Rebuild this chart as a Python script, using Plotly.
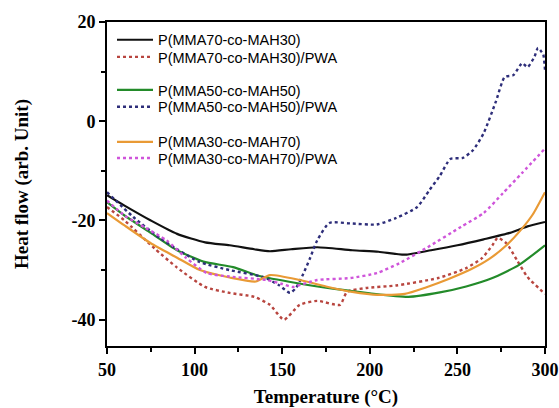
import plotly.graph_objects as go

# ---- data ----
t_p70 = [50, 60, 75, 90, 106, 120, 134, 143, 155, 170, 190, 205, 220, 235, 250, 265, 280, 290, 300]
h_p70 = [-14.9, -17, -20, -22.7, -24.4, -25, -25.8, -26.2, -25.8, -25.4, -26, -26.3, -26.9, -26, -25, -23.8, -22.5, -21.2, -20.3]

t_p70pwa = [50, 60, 77, 90, 106, 120, 134, 143, 151, 160, 170, 183, 187, 198, 215, 239, 255, 264, 270, 273, 278, 284, 290, 300]
h_p70pwa = [-17.3, -20, -25.6, -29.5, -33.4, -34.6, -35.4, -37, -40, -37, -36.2, -37, -34.4, -33.6, -33.1, -31.6, -29.6, -27.6, -25, -23.5, -24.6, -28, -31.4, -34.8]

t_p50 = [50, 60, 75, 90, 105, 122, 137, 158, 180, 200, 222, 240, 255, 270, 285, 300]
h_p50 = [-16.3, -19, -22.5, -26, -28.3, -29.4, -31.2, -32.6, -33.8, -34.7, -35.4, -34.5, -33.3, -31.6, -29, -25]

t_p50pwa = [50, 65, 80, 90, 103, 120, 139, 148, 154.5, 158, 162, 166, 170, 177, 189, 204, 215, 227, 234, 240, 246, 253, 259, 265, 272, 277, 282, 287, 290, 294, 296, 298, 299, 300]
h_p50pwa = [-14.3, -19.3, -23.5, -25.8, -28.4, -30, -31.4, -33, -34.6, -33.5, -30.8, -27.5, -24, -20.5, -20.6, -20.8, -19.5, -17.3, -13.9, -11, -7.6, -7.4, -5.8, -2.4, 4, 8.9, 9.3, 11.7, 10.9, 13, 14.8, 14, 13.5, 10.3]

t_p30 = [50, 60, 75, 90, 103, 120, 135, 143, 160, 175, 190, 205, 220, 232, 245, 258, 268, 278, 286, 293, 300]
h_p30 = [-18.5, -21, -24.6, -27.5, -30, -31.5, -32.3, -31, -32, -33.3, -34.4, -35, -34.8, -33.5, -31.8, -29.8, -27.8, -25, -22, -18.8, -14.3]

t_p30pwa = [50, 60, 72, 84, 95, 107, 120, 141, 150, 156, 162, 170, 189, 204, 217, 233, 252, 265, 276, 287, 300]
h_p30pwa = [-16, -19, -21.5, -24, -27.5, -30.6, -31.3, -32, -32.8, -33.4, -32.8, -32, -31.6, -30.6, -28.6, -25.4, -21.3, -18.5, -14.5, -10.4, -5.5]

x_ticks = [50, 100, 150, 200, 250, 300]
x_minor = [75, 125, 175, 225, 275]
y_ticks = [20, 0, -20, -40]
y_minor = [10, -10, -30]

series = [
    ("P(MMA70-co-MAH30)", t_p70, h_p70, "#111111", "solid"),
    ("P(MMA70-co-MAH30)/PWA", t_p70pwa, h_p70pwa, "#B8453F", "dot"),
    ("P(MMA50-co-MAH50)", t_p50, h_p50, "#238B2A", "solid"),
    ("P(MMA50-co-MAH50)/PWA", t_p50pwa, h_p50pwa, "#2E2E7A", "dot"),
    ("P(MMA30-co-MAH70)", t_p30, h_p30, "#E99A35", "solid"),
    ("P(MMA30-co-MAH70)/PWA", t_p30pwa, h_p30pwa, "#CF55DA", "dot"),
]

# legend row positions (fraction of plot height, from the top)
legend_rows = [0.055, 0.108, 0.210, 0.262, 0.370, 0.420]

fig = go.Figure()
layout_legends = {}
for i, (name, xs, ys, col, dash) in enumerate(series):
    lg = "legend" if i == 0 else f"legend{i + 1}"
    fig.add_trace(go.Scatter(
        x=xs, y=ys, mode="lines", name=name, legend=lg,
        line=dict(color=col, width=2.2 if dash == "solid" else 2.4, dash=dash, shape="spline", smoothing=0.6),
    ))
    layout_legends[lg] = dict(
        x=5 / 438, y=1 - legend_rows[i], xanchor="left", yanchor="middle",
        bgcolor="rgba(0,0,0,0)", borderwidth=0,
        font=dict(family="Liberation Sans", size=14.5, color="black"),
        itemwidth=36,
    )

tick_font = dict(family="Liberation Serif", size=18, color="black", weight="bold")
title_font = dict(family="Liberation Serif", size=19, color="black", weight="bold")

fig.update_layout(
    width=559, height=408,
    margin=dict(l=107, r=14, t=22, b=62, autoexpand=False),
    plot_bgcolor="white", paper_bgcolor="white",
    showlegend=True,
    xaxis=dict(
        range=[50, 300], tickvals=x_ticks, ticktext=[str(v) for v in x_ticks],
        showgrid=False, zeroline=False, automargin=False,
        showline=True, linecolor="black", linewidth=2, mirror=True,
        ticks="outside", ticklen=6, tickwidth=2, tickcolor="black",
        minor=dict(tickvals=x_minor, ticks="outside", ticklen=4, tickwidth=1.5, tickcolor="black"),
        tickfont=tick_font,
        title=dict(text="Temperature (°C)", font=title_font, standoff=14),
    ),
    yaxis=dict(
        range=[-45.3, 20], tickvals=y_ticks, ticktext=[str(v) for v in y_ticks],
        showgrid=False, zeroline=False, automargin=False,
        showline=True, linecolor="black", linewidth=2, mirror=True,
        ticks="outside", ticklen=6, tickwidth=2, tickcolor="black",
        minor=dict(tickvals=y_minor, ticks="outside", ticklen=4, tickwidth=1.5, tickcolor="black"),
        tickfont=tick_font,
        title=dict(text="Heat flow (arb. Unit)", font=title_font, standoff=38),
    ),
    **layout_legends,
)

fig.write_html("out.html")
